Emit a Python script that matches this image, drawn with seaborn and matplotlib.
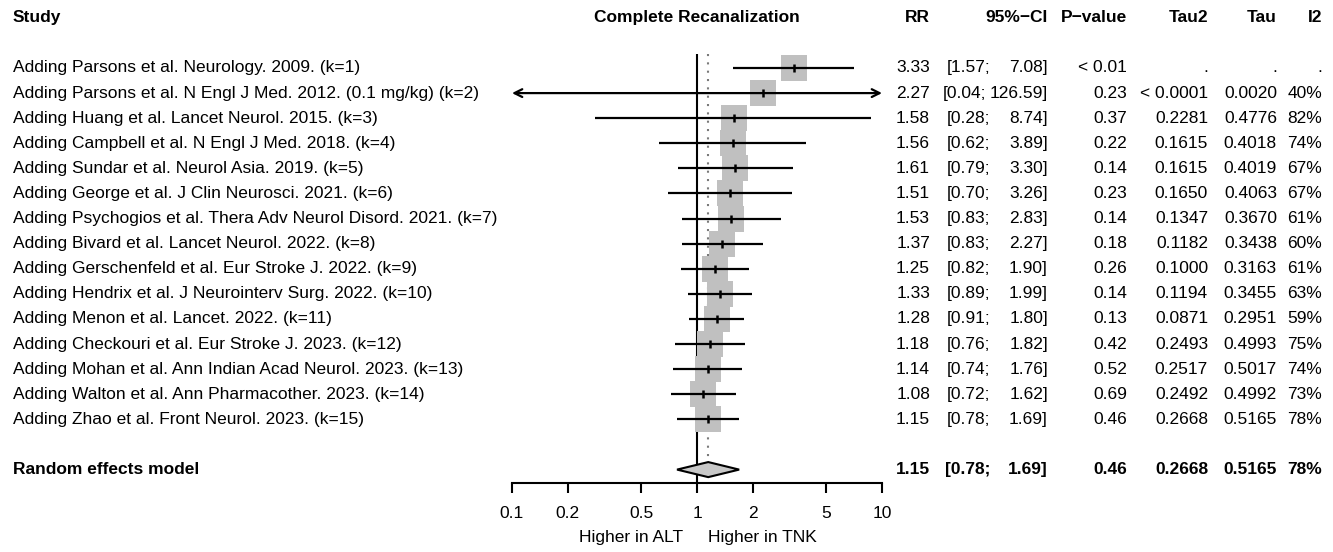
import numpy as np
import pandas as pd
import matplotlib
matplotlib.use("Agg")
import matplotlib.pyplot as plt
import matplotlib.transforms as mtransforms
import seaborn as sns

# ---------------- data ----------------
studies = [
    "Adding Parsons et al. Neurology. 2009. (k=1)",
    "Adding Parsons et al. N Engl J Med. 2012. (0.1 mg/kg) (k=2)",
    "Adding Huang et al. Lancet Neurol. 2015. (k=3)",
    "Adding Campbell et al. N Engl J Med. 2018. (k=4)",
    "Adding Sundar et al. Neurol Asia. 2019. (k=5)",
    "Adding George et al. J Clin Neurosci. 2021. (k=6)",
    "Adding Psychogios et al. Thera Adv Neurol Disord. 2021. (k=7)",
    "Adding Bivard et al. Lancet Neurol. 2022. (k=8)",
    "Adding Gerschenfeld et al. Eur Stroke J. 2022. (k=9)",
    "Adding Hendrix et al. J Neurointerv Surg. 2022. (k=10)",
    "Adding Menon et al. Lancet. 2022. (k=11)",
    "Adding Checkouri et al. Eur Stroke J. 2023. (k=12)",
    "Adding Mohan et al. Ann Indian Acad Neurol. 2023. (k=13)",
    "Adding Walton et al. Ann Pharmacother. 2023. (k=14)",
    "Adding Zhao et al. Front Neurol. 2023. (k=15)",
]
rr = [3.33, 2.27, 1.58, 1.56, 1.61, 1.51, 1.53, 1.37, 1.25, 1.33, 1.28, 1.18, 1.14, 1.08, 1.15]
ci_lo = [1.57, 0.04, 0.28, 0.62, 0.79, 0.70, 0.83, 0.83, 0.82, 0.89, 0.91, 0.76, 0.74, 0.72, 0.78]
ci_hi = [7.08, 126.59, 8.74, 3.89, 3.30, 3.26, 2.83, 2.27, 1.90, 1.99, 1.80, 1.82, 1.76, 1.62, 1.69]
p_values = ["< 0.01", "0.23", "0.37", "0.22", "0.14", "0.23", "0.14", "0.18",
            "0.26", "0.14", "0.13", "0.42", "0.52", "0.69", "0.46"]
tau2 = [".", "< 0.0001", "0.2281", "0.1615", "0.1615", "0.1650", "0.1347", "0.1182",
        "0.1000", "0.1194", "0.0871", "0.2493", "0.2517", "0.2492", "0.2668"]
tau = [".", "0.0020", "0.4776", "0.4018", "0.4019", "0.4063", "0.3670", "0.3438",
       "0.3163", "0.3455", "0.2951", "0.4993", "0.5017", "0.4992", "0.5165"]
i2 = [".", "40%", "82%", "74%", "67%", "67%", "61%", "60%", "61%", "63%", "59%",
      "75%", "74%", "73%", "78%"]

re_label = "Random effects model"
re_rr, re_lo, re_hi = 1.15, 0.78, 1.69
re_p, re_tau2, re_tau, re_i2 = "0.46", "0.2668", "0.5165", "78%"

headers = ["Study", "Complete Recanalization", "RR", "95%\u2212CI", "P\u2212value", "Tau2", "Tau", "I2"]
x_ticks = [0.1, 0.2, 0.5, 1, 2, 5, 10]
x_tick_labels = ["0.1", "0.2", "0.5", "1", "2", "5", "10"]
left_label, right_label = "Higher in ALT", "Higher in TNK"

df = pd.DataFrame({"study": studies, "rr": rr, "lo": ci_lo, "hi": ci_hi,
                   "row": np.arange(1, len(studies) + 1)})

# ---------------- style ----------------
sns.set_theme(style="white")
plt.rcParams["font.family"] = ["Liberation Sans", "DejaVu Sans"]
plt.rcParams["text.color"] = "black"
plt.rcParams["xtick.color"] = "black"
FS = 12.5

W, H = 1333, 552
fig = plt.figure(figsize=(W / 100, H / 100), dpi=100)
ax = fig.add_axes([512 / W, (H - 483) / H, 370 / W, 483 / H])
ax.set_xscale("log")
ax.set_xlim(0.1, 10)
ax.set_ylim(17.534, -1.709)
ax.patch.set_alpha(0)
for s in ["top", "left", "right"]:
    ax.spines[s].set_visible(False)
ax.spines["bottom"].set_color("black")
ax.spines["bottom"].set_linewidth(1.5)

re_row = len(studies) + 2
ymin_axis = ax.get_ylim()[0]

# reference lines
ax.vlines(1, df["row"].iloc[0] - 0.55, ymin_axis, color="black", lw=1.5, zorder=1)
ax.vlines(re_rr, df["row"].iloc[0] - 0.55, re_row - 0.3, color="#7a7a7a", lw=1.5,
          linestyles=(0, (1, 3)), zorder=1)

# squares
sns.scatterplot(data=df, x="rr", y="row", marker="s", s=325, color="#c0c0c0",
                linewidth=0, ax=ax, zorder=2, legend=False)

# CI lines
xmin, xmax = ax.get_xlim()
for _, r in df.iterrows():
    lo_c, hi_c = max(r["lo"], xmin), min(r["hi"], xmax)
    if r["lo"] < xmin or r["hi"] > xmax:
        style = ("<" if r["lo"] < xmin else "") + "-" + (">" if r["hi"] > xmax else "")
        ax.annotate("", xy=(hi_c, r["row"]), xytext=(lo_c, r["row"]),
                    arrowprops=dict(arrowstyle=style, lw=1.6, color="black",
                                    shrinkA=0, shrinkB=0, mutation_scale=14),
                    zorder=3, annotation_clip=False)
    else:
        ax.hlines(r["row"], lo_c, hi_c, color="black", lw=1.6, zorder=3)

# point estimate ticks
sns.scatterplot(data=df, x="rr", y="row", marker="|", s=36, color="black",
                linewidth=1.8, ax=ax, zorder=4, legend=False)

# diamond
ax.fill([re_lo, re_rr, re_hi, re_rr], [re_row, re_row - 0.3, re_row, re_row + 0.3],
        facecolor="#c8c8c8", edgecolor="black", lw=1.5, zorder=3)

# axis formatting
ax.set_yticks([])
ax.set_xticks(x_ticks)
ax.set_xticklabels(x_tick_labels)
ax.xaxis.set_minor_locator(matplotlib.ticker.NullLocator())
ax.tick_params(axis="x", which="major", direction="out", length=7.2, width=1.5,
               color="black", labelsize=FS, pad=9.5, bottom=True, labelcolor="black")
ax.set_xlabel("")
ax.set_ylabel("")

# ---------------- text columns ----------------
tr = mtransforms.blended_transform_factory(fig.transFigure, ax.transData)
def put(xpx, y, s, ha, bold=False):
    return fig.text(xpx / W, y, s, transform=tr, ha=ha, va="center", fontsize=FS,
                    fontweight="bold" if bold else "normal", color="black")

col_study = 13
col_rr, col_cilo_end, col_cihi, col_p, col_tau2, col_tau, col_i2 = 930, 990, 1048, 1127, 1208, 1277, 1322

renderer = fig.canvas.get_renderer()
def put_ci(y, lo, hi, bold=False):
    t_hi = put(col_cihi, y, f"{hi:.2f}]", "right", bold)
    left_px = t_hi.get_window_extent(renderer).x0
    end = min(col_cilo_end, left_px - 4)
    put(end, y, f"[{lo:.2f};", "right", bold)

hy = -1
put(col_study, hy, headers[0], "left", True)
ax.text(1, hy, headers[1], ha="center", va="center", fontsize=FS, fontweight="bold",
        color="black", clip_on=False)
put(col_rr, hy, headers[2], "right", True)
put(col_cihi, hy, headers[3], "right", True)
put(col_p, hy, headers[4], "right", True)
put(col_tau2, hy, headers[5], "right", True)
put(col_tau, hy, headers[6], "right", True)
put(col_i2, hy, headers[7], "right", True)

for i, r in df.iterrows():
    y = r["row"]
    put(col_study, y, r["study"], "left")
    put(col_rr, y, f"{r['rr']:.2f}", "right")
    put_ci(y, r["lo"], r["hi"])
    put(col_p, y, p_values[i], "right")
    put(col_tau2, y, tau2[i], "right")
    put(col_tau, y, tau[i], "right")
    put(col_i2, y, i2[i], "right")

put(col_study, re_row, re_label, "left", True)
put(col_rr, re_row, f"{re_rr:.2f}", "right", True)
put_ci(re_row, re_lo, re_hi, True)
put(col_p, re_row, re_p, "right", True)
put(col_tau2, re_row, re_tau2, "right", True)
put(col_tau, re_row, re_tau, "right", True)
put(col_i2, re_row, re_i2, "right", True)

# direction labels below axis
bt = mtransforms.blended_transform_factory(ax.transData, ax.transAxes)
ax.annotate(left_label, xy=(1, 0), xycoords=bt, xytext=(-10, -39), textcoords="offset points",
            ha="right", va="center", fontsize=FS, annotation_clip=False)
ax.annotate(right_label, xy=(1, 0), xycoords=bt, xytext=(8, -39), textcoords="offset points",
            ha="left", va="center", fontsize=FS, annotation_clip=False)

fig.savefig("out.png", dpi=100, facecolor="white")
